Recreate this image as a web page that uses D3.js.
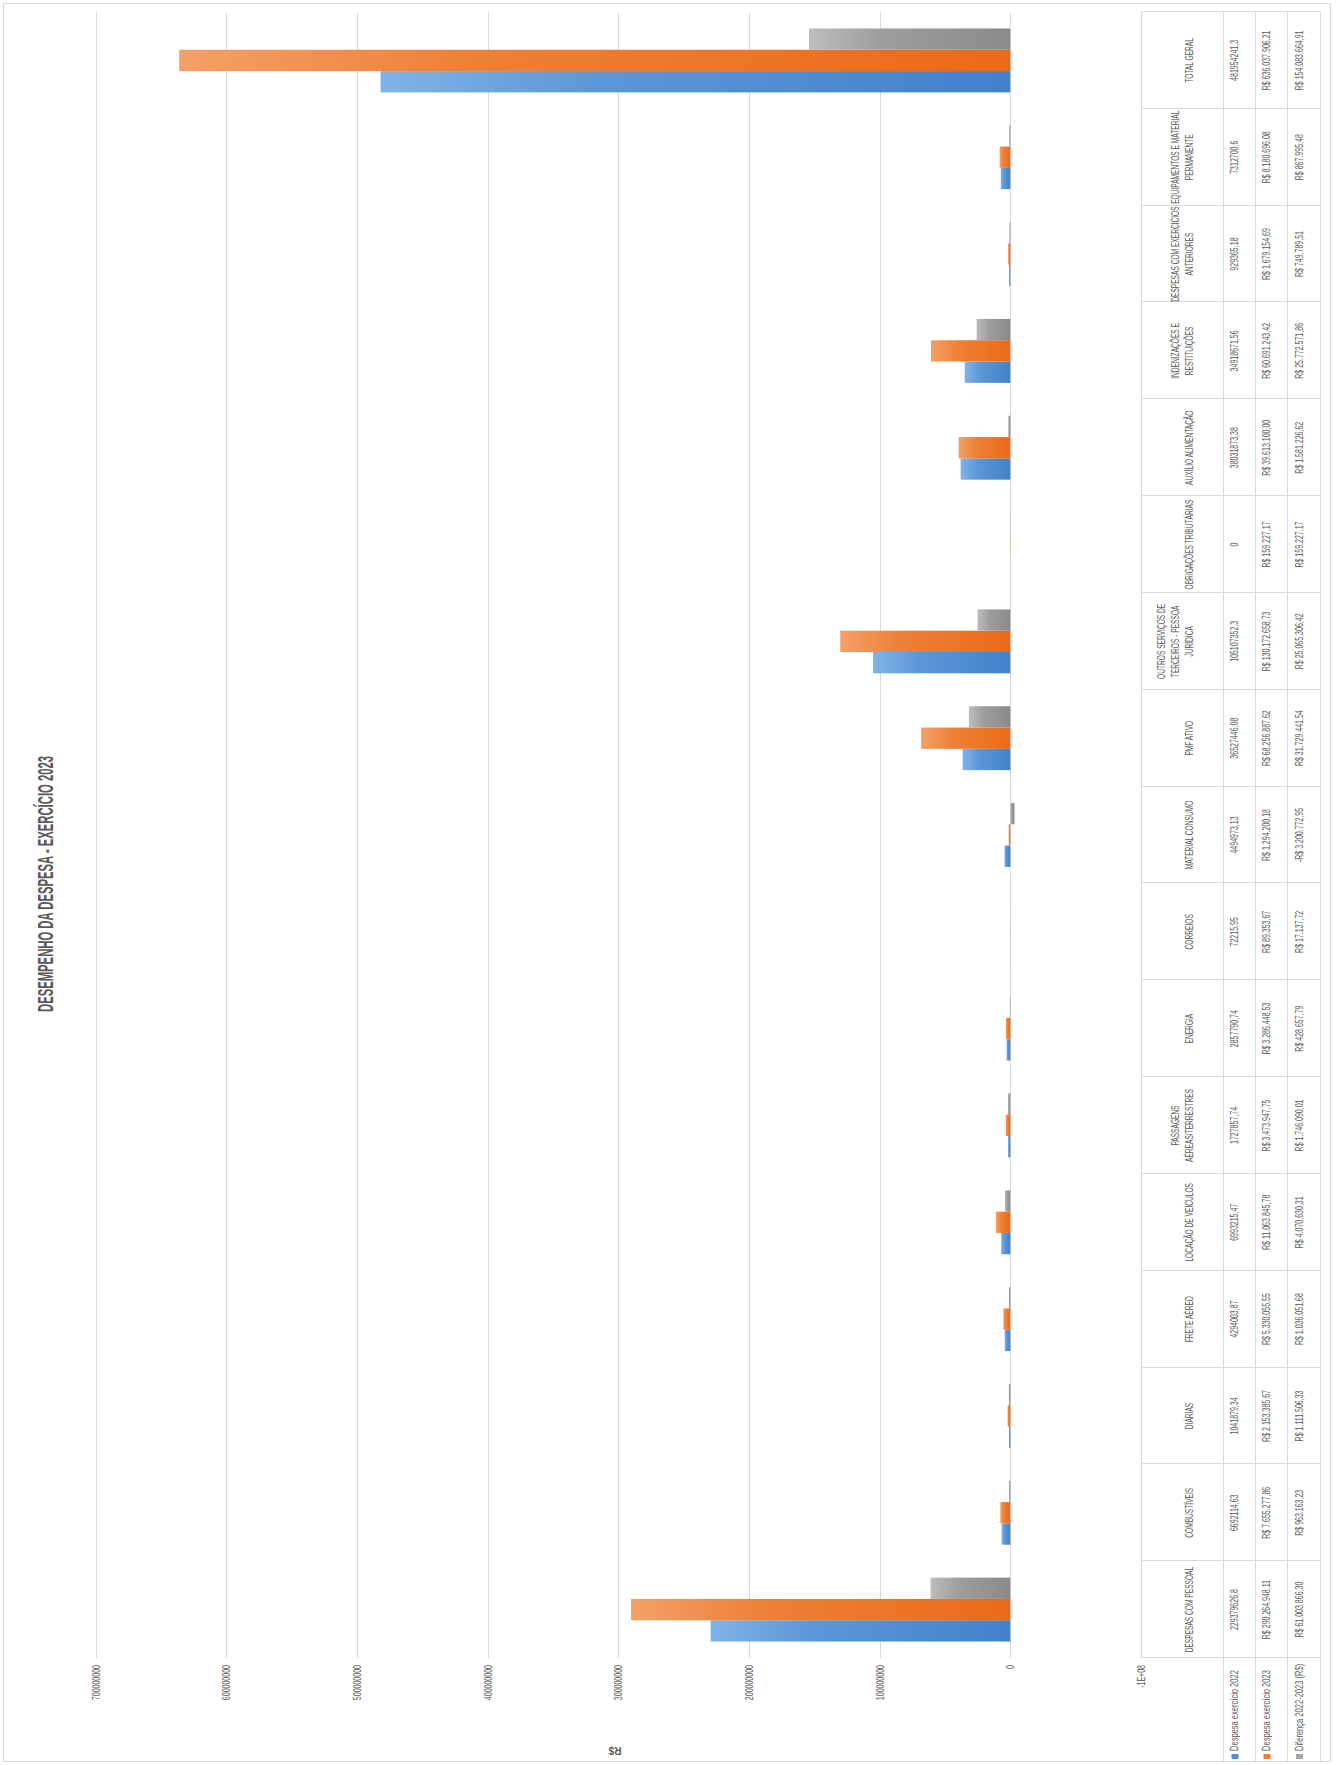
<!DOCTYPE html>
<html>
<head>
<meta charset="utf-8">
<title>Desempenho da Despesa - Exercício 2023</title>
<script src="https://cdn.jsdelivr.net/npm/d3@7"></script>
<style>
  html, body { margin: 0; padding: 0; background: #fff; }
  svg { display: block; font-family: "Liberation Sans", Arial, sans-serif; }
</style>
</head>
<body>
<div id="chart"></div>
<script>
// --------------------------------------------
// Chart data
// --------------------------------------------
const categories = [
    'DESPESAS COM PESSOAL', 'COMBUSTÍVEIS', 'DIÁRIAS', 'FRETE AÉREO',
    'LOCAÇÃO DE VEÍCULOS', 'PASSAGENS AÉREAS/TERRESTRES', 'ENERGIA', 'CORREIOS',
    'MATERIAL CONSUMO', 'PMF ATIVO', 'OUTROS SERVIÇOS DE TERCEIROS - PESSOA JURÍDICA',
    'OBRIGAÇÕES TRIBUTÁRIAS', 'AUXÍLIO ALIMENTAÇÃO', 'INDENIZAÇÕES E RESTITUIÇÕES',
    'DESPESAS COM EXERCÍCIOS ANTERIORES', 'EQUIPAMENTOS E MATERIAL PERMANENTE', 'TOTAL GERAL'
];

// how each category name wraps inside the data table header
const headerLines = [
    ['DESPESAS COM PESSOAL'], ['COMBUSTÍVEIS'], ['DIÁRIAS'], ['FRETE AÉREO'],
    ['LOCAÇÃO DE VEÍCULOS'], ['PASSAGENS', 'AÉREAS/TERRESTRES'], ['ENERGIA'], ['CORREIOS'],
    ['MATERIAL CONSUMO'], ['PMF ATIVO'], ['OUTROS SERVIÇOS DE', 'TERCEIROS - PESSOA', 'JURÍDICA'],
    ['OBRIGAÇÕES TRIBUTÁRIAS'], ['AUXÍLIO ALIMENTAÇÃO'], ['INDENIZAÇÕES E', 'RESTITUIÇÕES'],
    ['DESPESAS COM EXERCÍCIOS', 'ANTERIORES'], ['EQUIPAMENTOS E MATERIAL', 'PERMANENTE'], ['TOTAL GERAL']
];

const series = ['Despesa exercício 2022', 'Despesa exercício 2023', 'Diferença 2022-2023 (R$)'];

const despesa2022 = [
    229379626.8, 6692114.63, 1041879.34, 4294003.87, 6993215.47, 1727857.74, 2857790.74, 72215.95,
    4494973.13, 36527446.08, 105107352.31, 0, 38031873.38, 34918671.56, 929365.18, 7312700.6, 481954241.3
];

const despesa2023 = [
    290264948.11, 7655277.86, 2153385.67, 5330055.55, 11063845.78, 3473947.75, 3286448.53, 89353.67,
    1294200.18, 68256887.62, 130172658.73, 159227.17, 39613100.00, 60691243.42, 1679154.69, 8180696.08, 636037906.21
];

const diferenca = [
    61003866.30, 963163.23, 1111506.33, 1036051.68, 4070630.31, 1746090.01, 428657.79, 17137.72,
    -3200772.95, 31729441.54, 25065306.42, 159227.17, 1581226.62, 25772571.86, 749789.51, 867995.48, 154083664.91
];

const valueTicks = [-100000000, 0, 100000000, 200000000, 300000000, 400000000, 500000000, 600000000, 700000000];

const seriesColors = [
    { key: '#4f8fd6', light: '#80b4e6', dark: '#4282cb' },
    { key: '#ed7d31', light: '#f4a068', dark: '#ea6a17' },
    { key: '#a5a5a5', light: '#bdbdbd', dark: '#8a8a8a' }
];

// --------------------------------------------
// Layout: the chart is built in a landscape frame
// (FRAME_W x FRAME_H) and then turned a quarter left
// --------------------------------------------
const FRAME_W = 1765, FRAME_H = 1338;
const SQUEEZE = 0.63;            // text in the reference is narrowed
const TEXT_COLOR = '#595959';
const LINE_COLOR = '#d9d9d9';

const svg = d3.select('#chart')
    .append('svg')
    .attr('width', FRAME_H)
    .attr('height', FRAME_W);

svg.append('rect').attr('width', FRAME_H).attr('height', FRAME_W).attr('fill', '#fff');

const defs = svg.append('defs');
seriesColors.forEach((c, k) => {
    const grad = defs.append('linearGradient')
        .attr('id', `grad${k}`)
        .attr('x1', 0).attr('y1', 0).attr('x2', 0).attr('y2', 1);
    grad.append('stop').attr('offset', '0%').attr('stop-color', c.light);
    grad.append('stop').attr('offset', '35%').attr('stop-color', d3.interpolateRgb(c.light, c.dark)(0.6));
    grad.append('stop').attr('offset', '100%').attr('stop-color', c.dark);
});

const g = svg.append('g').attr('transform', `translate(0,${FRAME_W}) rotate(-90)`);

// outer chart border
g.append('rect')
    .attr('x', 3.5).attr('y', 3.5)
    .attr('width', 1758).attr('height', 1327)
    .attr('fill', 'none')
    .attr('stroke', LINE_COLOR);

const plot = { left: 107, right: 1753 };

const x = d3.scaleBand()
    .domain(categories)
    .range([plot.left, plot.right])
    .paddingInner(0.34)
    .paddingOuter(0.17);

const xs = d3.scaleBand()
    .domain(series)
    .range([0, x.bandwidth()]);

const y = d3.scaleLinear()
    .domain([valueTicks[0], valueTicks[valueTicks.length - 1]])
    .range([1141, 95.6]);

// gridlines
g.append('g')
    .selectAll('line')
    .data(valueTicks.slice(1))
    .join('line')
    .attr('x1', plot.left).attr('x2', plot.right)
    .attr('y1', d => Math.round(y(d)) + 0.5)
    .attr('y2', d => Math.round(y(d)) + 0.5)
    .attr('stroke', LINE_COLOR);

// bars
const values = [despesa2022, despesa2023, diferenca];
const barData = categories.flatMap((c, i) => series.map((s, k) => ({ c, s, k, v: values[k][i] })));

g.append('g')
    .selectAll('rect')
    .data(barData)
    .join('rect')
    .attr('x', d => x(d.c) + xs(d.s))
    .attr('width', xs.bandwidth())
    .attr('y', d => y(Math.max(0, d.v)))
    .attr('height', d => Math.abs(y(d.v) - y(0)))
    .attr('fill', d => `url(#grad${d.k})`);

// value axis labels
const axis = d3.axisLeft(y)
    .tickValues(valueTicks)
    .tickSize(0)
    .tickPadding(0)
    .tickFormat(d => d < 0 ? '-1E+08' : d3.format('d')(d));

const axisG = g.append('g')
    .attr('transform', 'translate(100,0)')
    .call(axis)
    .attr('font-family', null)
    .attr('font-size', null);
axisG.select('.domain').remove();
axisG.selectAll('text')
    .attr('fill', TEXT_COLOR)
    .attr('font-size', 11)
    .attr('transform', 'scale(0.64,1)');

// axis title
g.append('text')
    .attr('transform', 'translate(15,615) rotate(-90)')
    .attr('text-anchor', 'middle')
    .attr('dy', '0.35em')
    .attr('font-size', 10)
    .attr('font-weight', 'bold')
    .attr('fill', TEXT_COLOR)
    .text('R$');

// chart title
g.append('text')
    .attr('x', 881).attr('y', 53)
    .attr('text-anchor', 'middle')
    .attr('font-size', 22)
    .attr('font-weight', 'bold')
    .attr('fill', TEXT_COLOR)
    .attr('textLength', 256)
    .attr('lengthAdjust', 'spacingAndGlyphs')
    .text('DESEMPENHO DA DESPESA - EXERCÍCIO 2023');

// --------------------------------------------
// Data table
// --------------------------------------------
const rowEdges = [y(valueTicks[0]), 1223, 1255, 1287, 1320];
const table = g.append('g');

const bounds = categories.map(c => x(c) - (x.step() - x.bandwidth()) / 2);
bounds.push(bounds[bounds.length - 1] + x.step());

table.selectAll('line.col')
    .data(bounds)
    .join('line')
    .attr('class', 'col')
    .attr('x1', d => Math.round(d) + 0.5).attr('x2', d => Math.round(d) + 0.5)
    .attr('y1', rowEdges[0]).attr('y2', rowEdges[4])
    .attr('stroke', LINE_COLOR);

table.selectAll('line.row')
    .data(rowEdges)
    .join('line')
    .attr('class', 'row')
    .attr('x1', (d, i) => i === 0 ? bounds[0] : 3)
    .attr('x2', bounds[bounds.length - 1])
    .attr('y1', d => Math.round(d) + 0.5).attr('y2', d => Math.round(d) + 0.5)
    .attr('stroke', LINE_COLOR);

// header cells
const headerData = categories.flatMap((c, i) =>
    headerLines[i].map((ln, j) => ({ c, ln, off: headerLines[i].length - 1 - j })));

table.selectAll('text.head')
    .data(headerData)
    .join('text')
    .attr('class', 'head')
    .attr('transform', d => `translate(${x(d.c) + x.bandwidth() / 2},${1193 - d.off * 14}) scale(${SQUEEZE},1)`)
    .attr('text-anchor', 'middle')
    .attr('font-size', 10.5)
    .attr('fill', TEXT_COLOR)
    .text(d => d.ln);

// value cells
const brl = d3.formatLocale({ decimal: ',', thousands: '.', grouping: [3], currency: ['R$ ', ''] }).format(',.2f');
function fmtPlain(v) {
    if (v === 0) return '0';
    let s = v.toFixed(2);
    const intDigits = s.split('.')[0].length;
    if (s.length > 11) s = v.toFixed(Math.max(0, 11 - intDigits - 1));
    s = s.replace(/0+$/, '').replace(/\.$/, '');
    return s.replace('.', ',');
}
function fmtBRL(v) {
    return (v < 0 ? '-' : '') + 'R$ ' + brl(Math.abs(v));
}
const formatters = [fmtPlain, fmtBRL, fmtBRL];

const cellData = categories.flatMap((c, i) => series.map((s, k) => ({ c, k, t: formatters[k](values[k][i]) })));
const rowText = k => (rowEdges[k + 1] + rowEdges[k + 2]) / 2 - 1;

table.selectAll('text.cell')
    .data(cellData)
    .join('text')
    .attr('class', 'cell')
    .attr('transform', d => `translate(${x(d.c) + x.bandwidth() / 2},${rowText(d.k)}) scale(0.67,1)`)
    .attr('text-anchor', 'middle')
    .attr('font-size', 10.5)
    .attr('fill', TEXT_COLOR)
    .text(d => d.t);

// legend cells
const legend = table.selectAll('g.legend')
    .data(series)
    .join('g')
    .attr('class', 'legend');

legend.append('rect')
    .attr('x', 6).attr('width', 5)
    .attr('y', (d, k) => rowText(k) - 6.5).attr('height', 7)
    .attr('fill', (d, k) => seriesColors[k].key);

legend.append('text')
    .attr('transform', (d, k) => `translate(14,${rowText(k)}) scale(0.72,1)`)
    .attr('font-size', 10.5)
    .attr('fill', TEXT_COLOR)
    .text(d => d);
</script>
</body>
</html>
